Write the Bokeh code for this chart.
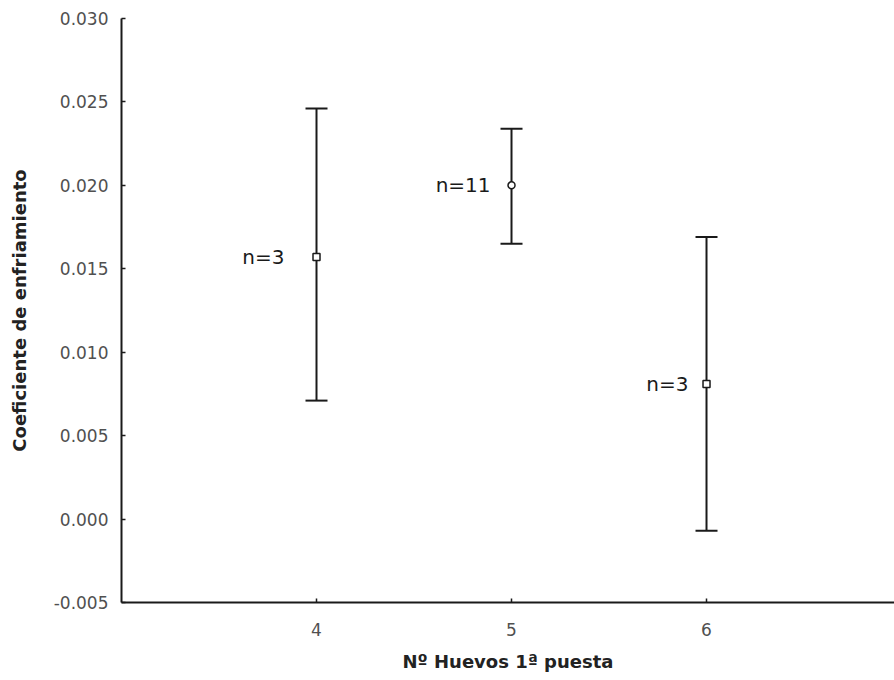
from bokeh.plotting import figure
from bokeh.models import ColumnDataSource, Whisker, TeeHead, Range1d, FixedTicker, NumeralTickFormatter
from bokeh.embed import file_html
from bokeh.resources import INLINE
from bokeh.core.properties import value

# data
huevos = [4, 5, 6]
coef_mean = [0.0157, 0.0200, 0.0081]
coef_upper = [0.0246, 0.0234, 0.0169]
coef_lower = [0.0071, 0.0165, -0.0007]
n_labels = ["n=3", "n=11", "n=3"]
y_ticks = [-0.005, 0.000, 0.005, 0.010, 0.015, 0.020, 0.025, 0.030]
x_ticks = [4, 5, 6]

# styles
markers = ["square", "circle", "square"]
label_offsets = [-32, -21, -18]

src = ColumnDataSource(data=dict(x=huevos, mean=coef_mean, upper=coef_upper,
                                 lower=coef_lower, label=n_labels,
                                 marker=markers, xoff=label_offsets))

p = figure(width=894, height=680, output_backend="svg", toolbar_location=None,
           x_range=Range1d(3, 6.964), y_range=Range1d(-0.005, 0.030),
           min_border_left=121, min_border_right=0, min_border_top=18,
           min_border_bottom=78)
p.outline_line_color = None
p.xgrid.visible = False
p.ygrid.visible = False
p.background_fill_color = "white"
p.border_fill_color = "white"

w = Whisker(base="x", upper="upper", lower="lower", source=src,
            line_color="#1a1a1a", line_width=2,
            upper_head=TeeHead(size=22, line_color="#1a1a1a", line_width=2),
            lower_head=TeeHead(size=22, line_color="#1a1a1a", line_width=2))
p.add_layout(w)

p.scatter("x", "mean", source=src, marker="marker", size=7, fill_color="white",
          line_color="#1a1a1a", line_width=1.5)

p.text("x", "mean", text="label", source=src, x_offset="xoff",
       text_align="right", text_baseline="middle",
       text_font=value("DejaVu Sans"), text_font_size="20px", text_color="#1a1a1a")

for ax in (p.xaxis[0], p.yaxis[0]):
    ax.axis_line_color = "#1a1a1a"
    ax.axis_line_width = 2
    ax.major_tick_in = 4
    ax.major_tick_out = 0
    ax.major_tick_line_color = "#1a1a1a"
    ax.major_tick_line_width = 1.5
    ax.minor_tick_line_color = None
    ax.major_label_text_font = "DejaVu Sans"
    ax.major_label_text_font_size = "17px"
    ax.major_label_text_color = "#505050"
    ax.axis_label_text_font = "DejaVu Sans"
    ax.axis_label_text_font_style = "bold"
    ax.axis_label_text_font_size = "18px"
    ax.axis_label_text_color = "#222222"

p.xaxis.ticker = FixedTicker(ticks=x_ticks)
p.yaxis.ticker = FixedTicker(ticks=y_ticks)
p.yaxis.formatter = NumeralTickFormatter(format="0.000")
p.xaxis.axis_label = "Nº Huevos 1ª puesta"
p.yaxis.axis_label = "Coeficiente de enfriamiento"
p.xaxis.major_label_standoff = 20
p.yaxis.major_label_standoff = 13
p.xaxis.axis_label_standoff = 12
p.yaxis.axis_label_standoff = 21

open("out.html", "w").write(file_html(p, INLINE))
